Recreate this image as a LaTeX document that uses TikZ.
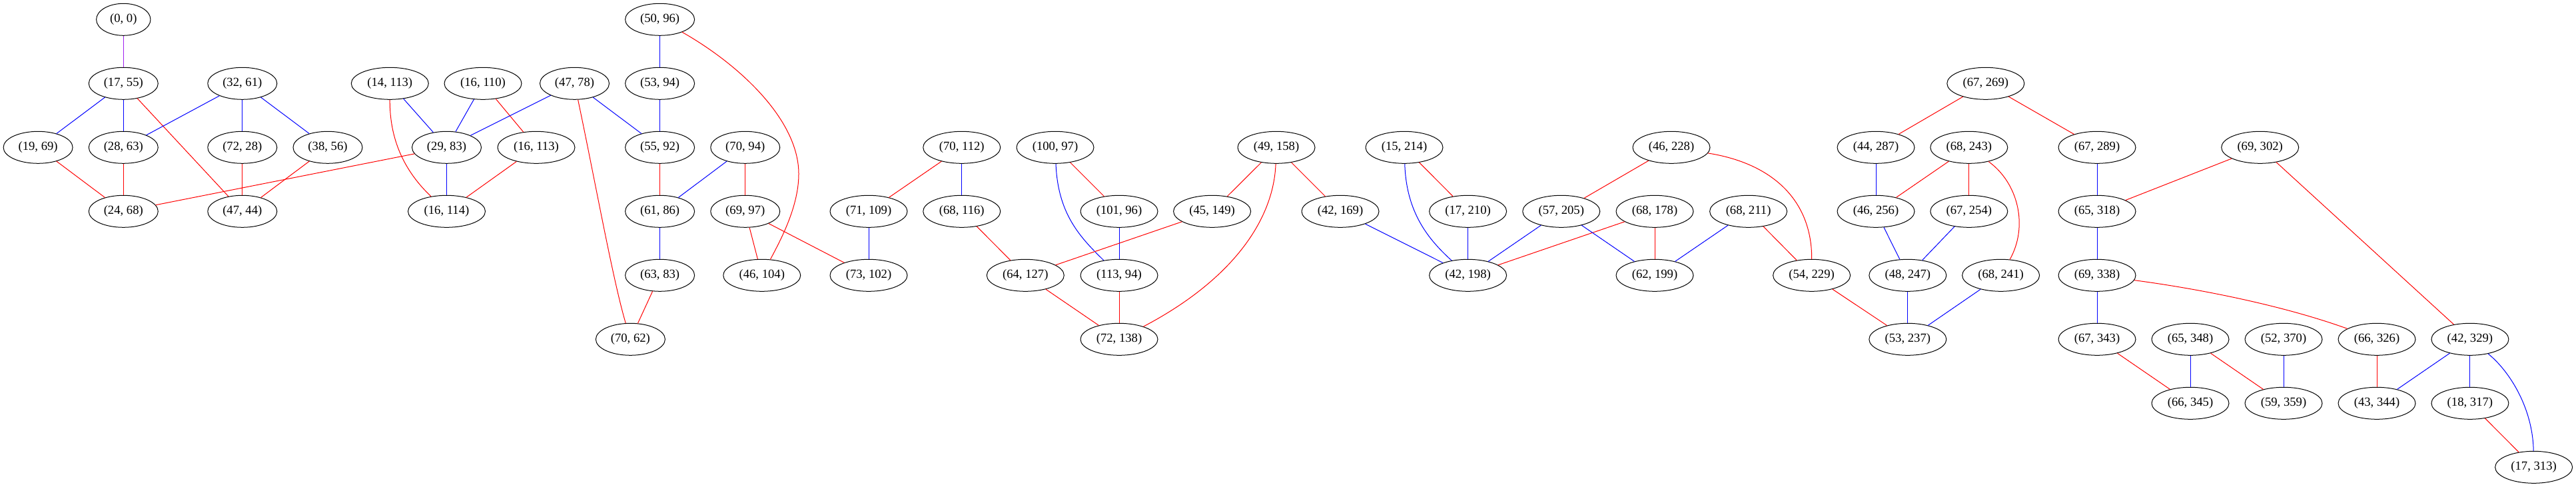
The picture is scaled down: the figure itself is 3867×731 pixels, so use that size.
\documentclass[tikz,border=0pt]{standalone}
\usepackage{fontspec}
\setmainfont{Liberation Serif}
\usetikzlibrary{shapes.geometric}
\definecolor{gvred}{RGB}{255,0,0}
\definecolor{gvblue}{RGB}{0,0,255}
\definecolor{gvpurple}{RGB}{160,32,240}
\tikzset{
  nd/.style={ellipse, draw=black, line width=0.75pt, inner sep=0pt, minimum height=36pt, font=\fontsize{14}{16}\selectfont},
  wa/.style={nd, minimum width=61pt},
  wb/.style={nd, minimum width=78pt},
  wc/.style={nd, minimum width=87pt},
  re/.style={draw=gvred, line width=0.75pt},
  be/.style={draw=gvblue, line width=0.75pt},
  pe/.style={draw=gvpurple, line width=0.75pt},
}
\begin{document}
\begin{tikzpicture}[x=0.75pt,y=-0.75pt]
\useasboundingbox (0,0) rectangle (3867,731);
\def\rA{29.3}\def\rB{125.3}\def\rC{221.3}\def\rD{317.3}\def\rE{413.3}\def\rF{509.3}\def\rG{605.3}\def\rH{701.3}
% row 0
\node[wa] (a0x0) at (185.3,\rA) {(0, 0)};
\node[wb] (a50x96) at (990.6,\rA) {(50, 96)};
% row 1
\node[wb] (a17x55) at (185.3,\rB) {(17, 55)};
\node[wb] (a32x61) at (363.8,\rB) {(32, 61)};
\node[wc] (a14x113) at (585.3,\rB) {(14, 113)};
\node[wc] (a16x110) at (725,\rB) {(16, 110)};
\node[wb] (a47x78) at (862.5,\rB) {(47, 78)};
\node[wb] (a53x94) at (990.6,\rB) {(53, 94)};
\node[wc] (a67x269) at (2980.8,\rB) {(67, 269)};
% row 2
\node[wb] (a19x69) at (57.1,\rC) {(19, 69)};
\node[wb] (a28x63) at (185.3,\rC) {(28, 63)};
\node[wb] (a72x28) at (363.8,\rC) {(72, 28)};
\node[wb] (a38x56) at (492,\rC) {(38, 56)};
\node[wb] (a29x83) at (670.5,\rC) {(29, 83)};
\node[wc] (a16x113) at (805,\rC) {(16, 113)};
\node[wb] (a55x92) at (990.6,\rC) {(55, 92)};
\node[wb] (a70x94) at (1118.75,\rC) {(70, 94)};
\node[wc] (a70x112) at (1443.75,\rC) {(70, 112)};
\node[wc] (a100x97) at (1584,\rC) {(100, 97)};
\node[wc] (a49x158) at (1916,\rC) {(49, 158)};
\node[wc] (a15x214) at (2108,\rC) {(15, 214)};
\node[wc] (a46x228) at (2509,\rC) {(46, 228)};
\node[wc] (a44x287) at (2816,\rC) {(44, 287)};
\node[wc] (a68x243) at (2955.8,\rC) {(68, 243)};
\node[wc] (a67x289) at (3148,\rC) {(67, 289)};
\node[wc] (a69x302) at (3392.7,\rC) {(69, 302)};
% row 3
\node[wb] (a24x68) at (185.3,\rD) {(24, 68)};
\node[wb] (a47x44) at (363.8,\rD) {(47, 44)};
\node[wc] (a16x114) at (670.5,\rD) {(16, 114)};
\node[wb] (a61x86) at (990.6,\rD) {(61, 86)};
\node[wb] (a69x97) at (1118.75,\rD) {(69, 97)};
\node[wc] (a71x109) at (1304,\rD) {(71, 109)};
\node[wc] (a68x116) at (1443.75,\rD) {(68, 116)};
\node[wc] (a101x96) at (1680,\rD) {(101, 96)};
\node[wc] (a45x149) at (1819.6,\rD) {(45, 149)};
\node[wc] (a42x169) at (2012,\rD) {(42, 169)};
\node[wc] (a17x210) at (2203.6,\rD) {(17, 210)};
\node[wc] (a57x205) at (2343.75,\rD) {(57, 205)};
\node[wc] (a68x178) at (2484,\rD) {(68, 178)};
\node[wc] (a68x211) at (2624.6,\rD) {(68, 211)};
\node[wc] (a46x256) at (2816,\rD) {(46, 256)};
\node[wc] (a67x254) at (2955.8,\rD) {(67, 254)};
\node[wc] (a65x318) at (3148,\rD) {(65, 318)};
% row 4
\node[wb] (a63x83) at (990.6,\rE) {(63, 83)};
\node[wc] (a46x104) at (1143.75,\rE) {(46, 104)};
\node[wc] (a73x102) at (1304,\rE) {(73, 102)};
\node[wc] (a64x127) at (1539.3,\rE) {(64, 127)};
\node[wc] (a113x94) at (1680,\rE) {(113, 94)};
\node[wc] (a42x198) at (2203.6,\rE) {(42, 198)};
\node[wc] (a62x199) at (2484,\rE) {(62, 199)};
\node[wc] (a54x229) at (2719.6,\rE) {(54, 229)};
\node[wc] (a48x247) at (2863.8,\rE) {(48, 247)};
\node[wc] (a68x241) at (3003.6,\rE) {(68, 241)};
\node[wc] (a69x338) at (3148,\rE) {(69, 338)};
% row 5
\node[wb] (a70x62) at (946.4,\rF) {(70, 62)};
\node[wc] (a72x138) at (1680,\rF) {(72, 138)};
\node[wc] (a53x237) at (2863.8,\rF) {(53, 237)};
\node[wc] (a67x343) at (3148,\rF) {(67, 343)};
\node[wc] (a65x348) at (3288,\rF) {(65, 348)};
\node[wc] (a52x370) at (3428,\rF) {(52, 370)};
\node[wc] (a66x326) at (3568,\rF) {(66, 326)};
\node[wc] (a42x329) at (3707.9,\rF) {(42, 329)};
% row 6
\node[wc] (a66x345) at (3288,\rG) {(66, 345)};
\node[wc] (a59x359) at (3428,\rG) {(59, 359)};
\node[wc] (a43x344) at (3568,\rG) {(43, 344)};
\node[wc] (a18x317) at (3707.9,\rG) {(18, 317)};
% row 7
\node[wc] (a17x313) at (3803.6,\rH) {(17, 313)};

% edges
\path[pe] (a0x0) -- (a17x55);
\path[be] (a17x55) -- (a19x69);
\path[be] (a17x55) -- (a28x63);
\path[re] (a17x55) -- (a47x44);
\path[be] (a32x61) -- (a28x63);
\path[be] (a32x61) -- (a72x28);
\path[be] (a32x61) -- (a38x56);
\path[re] (a19x69) -- (a24x68);
\path[re] (a28x63) -- (a24x68);
\path[re] (a72x28) -- (a47x44);
\path[re] (a38x56) -- (a47x44);
\path[re] (a29x83) -- (a24x68);
\path[be] (a14x113) -- (a29x83);
\path[re] (a14x113) .. controls (585,200) and (600,250) .. (a16x114);
\path[be] (a29x83) -- (a16x114);
\path[be] (a16x110) -- (a29x83);
\path[re] (a16x110) -- (a16x113);
\path[be] (a47x78) -- (a29x83);
\path[be] (a47x78) -- (a55x92);
\path[re] (a47x78) .. controls (895,280) and (920,420) .. (a70x62);
\path[re] (a16x113) -- (a16x114);
\path[be] (a50x96) -- (a53x94);
\path[re] (a50x96) .. controls (1110,97) and (1199,180) .. (1199,261) .. controls (1199,310) and (1172,360) .. (a46x104);
\path[be] (a53x94) -- (a55x92);
\path[re] (a55x92) -- (a61x86);
\path[be] (a70x94) -- (a61x86);
\path[re] (a70x94) -- (a69x97);
\path[be] (a61x86) -- (a63x83);
\path[re] (a69x97) -- (a46x104);
\path[re] (a69x97) -- (a73x102);
\path[re] (a63x83) -- (a70x62);
\path[re] (a70x112) -- (a71x109);
\path[be] (a71x109) -- (a73x102);
\path[be] (a70x112) -- (a68x116);
\path[re] (a68x116) -- (a64x127);
\path[be] (a100x97) .. controls (1588,320) and (1620,355) .. (a113x94);
\path[re] (a100x97) -- (a101x96);
\path[be] (a101x96) -- (a113x94);
\path[re] (a45x149) -- (a64x127);
\path[re] (a64x127) -- (a72x138);
\path[re] (a113x94) -- (a72x138);
\path[re] (a49x158) -- (a45x149);
\path[re] (a49x158) .. controls (1912,330) and (1850,420) .. (a72x138);
\path[re] (a49x158) -- (a42x169);
\path[be] (a42x169) -- (a42x198);
\path[be] (a15x214) .. controls (2111,320) and (2145,360) .. (a42x198);
\path[re] (a15x214) -- (a17x210);
\path[be] (a17x210) -- (a42x198);
\path[be] (a57x205) -- (a42x198);
\path[re] (a68x178) -- (a42x198);
\path[re] (a46x228) -- (a57x205);
\path[be] (a57x205) -- (a62x199);
\path[re] (a68x178) -- (a62x199);
\path[be] (a68x211) -- (a62x199);
\path[re] (a46x228) .. controls (2660,245) and (2720,300) .. (a54x229);
\path[re] (a68x211) -- (a54x229);
\path[re] (a67x269) -- (a44x287);
\path[re] (a67x269) -- (a67x289);
\path[be] (a44x287) -- (a46x256);
\path[re] (a68x243) -- (a46x256);
\path[re] (a68x243) -- (a67x254);
\path[re] (a68x243) .. controls (3030,275) and (3045,340) .. (a68x241);
\path[be] (a67x289) -- (a65x318);
\path[re] (a69x302) -- (a65x318);
\path[be] (a46x256) -- (a48x247);
\path[be] (a67x254) -- (a48x247);
\path[be] (a65x318) -- (a69x338);
\path[re] (a54x229) -- (a53x237);
\path[be] (a48x247) -- (a53x237);
\path[be] (a68x241) -- (a53x237);
\path[be] (a69x338) -- (a67x343);
\path[re] (a69x338) .. controls (3290,432) and (3420,456) .. (a66x326);
\path[re] (a67x343) -- (a66x345);
\path[be] (a65x348) -- (a66x345);
\path[re] (a69x302) -- (a42x329);
\path[re] (a65x348) -- (a59x359);
\path[be] (a52x370) -- (a59x359);
\path[re] (a66x326) -- (a43x344);
\path[be] (a42x329) -- (a43x344);
\path[be] (a42x329) -- (a18x317);
\path[be] (a42x329) .. controls (3765,555) and (3802,610) .. (a17x313);
\path[re] (a18x317) -- (a17x313);
\end{tikzpicture}
\end{document}
